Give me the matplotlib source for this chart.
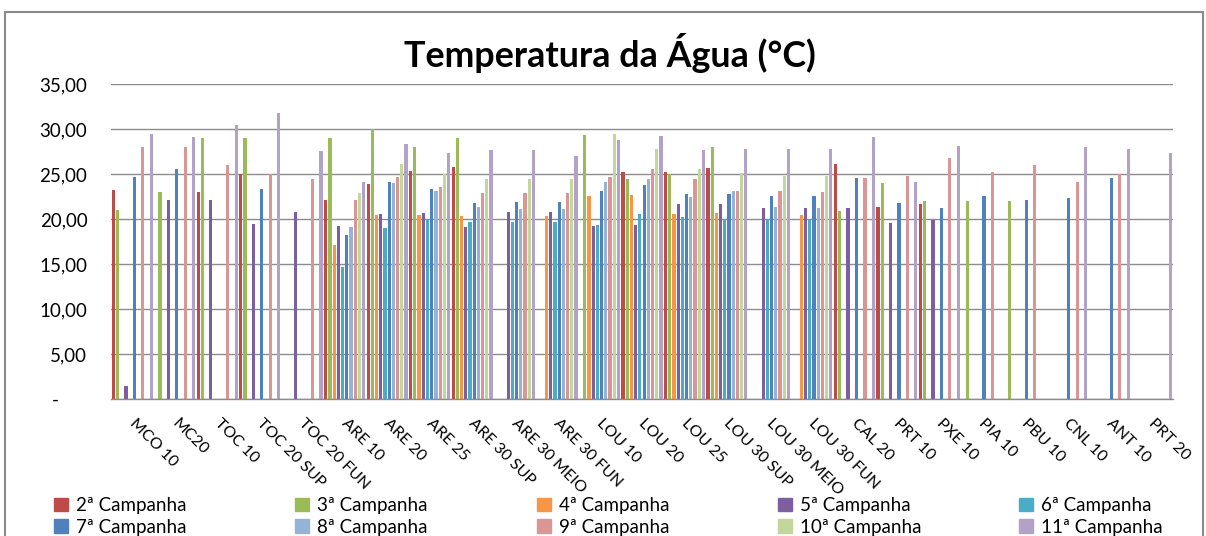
import numpy as np
import matplotlib
matplotlib.use("Agg")
import matplotlib.pyplot as plt
from matplotlib.patches import Rectangle, Patch
from matplotlib.ticker import FixedLocator

plt.rcParams['font.family'] = ['Lato', 'DejaVu Sans']

nan = np.nan
categorias = ["MCO 10", "MC20", "TOC 10", "TOC 20 SUP", "TOC 20 FUN", "ARE 10", "ARE 20",
              "ARE 25", "ARE 30 SUP", "ARE 30 MEIO", "ARE 30 FUN", "LOU 10", "LOU 20",
              "LOU 25", "LOU 30 SUP", "LOU 30 MEIO", "LOU 30 FUN", "CAL 20", "PRT 10",
              "PXE 10", "PIA 10", "PBU 10", "CNL 10", "ANT 10", "PRT 20"]

camp2 = [23.3, nan, 23.0, 25.0, nan, 22.1, 23.9, 25.4, 25.8, nan, nan, nan, 25.3,
         25.3, 25.7, nan, nan, 26.1, 21.4, 21.7, nan, nan, nan, nan, nan]
camp3 = [21.0, 23.0, 29.0, 29.0, nan, 29.0, 30.0, 28.0, 29.0, nan, nan, 29.4, 24.5,
         25.0, 28.0, nan, nan, 20.9, 24.0, 22.0, 22.0, 22.0, nan, nan, nan]
camp4 = [nan, nan, nan, nan, nan, 17.2, 20.5, 20.5, 20.4, nan, 20.4, 22.6, 22.7,
         20.6, 20.7, nan, 20.5, nan, nan, nan, nan, nan, nan, nan, nan]
camp5 = [1.44, 22.1, 22.1, 19.5, 20.8, 19.3, 20.6, 20.7, 19.2, 20.8, 20.8, 19.3, 19.4,
         21.7, 21.7, 21.3, 21.3, 21.3, 19.6, 19.9, nan, nan, nan, nan, nan]
camp6 = [nan, nan, nan, nan, nan, 14.7, 19.0, 19.9, 19.7, 19.7, 19.7, 19.4, 20.6,
         20.3, 19.9, 19.9, 19.9, nan, nan, nan, nan, nan, nan, nan, nan]
camp7 = [24.7, 25.6, nan, 23.4, nan, 18.3, 24.1, 23.4, 21.8, 21.9, 21.9, 23.2, 23.8,
         22.8, 22.8, 22.6, 22.6, 24.6, 21.8, 21.3, 22.6, 22.1, 22.4, 24.6, nan]
camp8 = [nan, nan, nan, nan, nan, 19.2, 24.0, 23.2, 21.4, 21.2, 21.2, 24.1, 24.5,
         22.5, 23.1, 21.4, 21.3, nan, nan, nan, nan, nan, nan, nan, nan]
camp9 = [28.0, 28.0, 26.0, 25.0, 24.5, 22.2, 24.7, 23.6, 22.9, 22.9, 22.9, 24.7, 25.6,
         24.5, 23.1, 23.1, 23.0, 24.6, 24.8, 26.8, 25.3, 26.0, 24.2, 25.0, nan]
camp10 = [nan, nan, nan, nan, nan, 22.9, 26.1, 25.0, 24.5, 24.5, 24.5, 29.5, 27.8,
          25.6, 25.1, 24.8, 24.8, nan, nan, nan, nan, nan, nan, nan, nan]
camp11 = [29.5, 29.15, 30.5, 31.8, 27.55, 24.1, 28.4, 27.4, 27.7, 27.7, 27.0, 28.8, 29.3,
          27.7, 27.8, 27.8, 27.8, 29.15, 24.1, 28.1, nan, nan, 28.0, 27.8, 27.4]

series = [camp2, camp3, camp4, camp5, camp6, camp7, camp8, camp9, camp10, camp11]
nomes = ["2ª Campanha", "3ª Campanha", "4ª Campanha", "5ª Campanha", "6ª Campanha",
         "7ª Campanha", "8ª Campanha", "9ª Campanha", "10ª Campanha", "11ª Campanha"]
cores = ["#BE4B48", "#9BBB59", "#F79646", "#7D5FA0", "#4BACC6",
         "#4F81BD", "#95B3D7", "#D99694", "#C3D69B", "#B3A2C7"]

fig = plt.figure(figsize=(12.06, 5.36), dpi=100)
ax = fig.add_axes([111 / 1206, 1 - 399.3 / 536, 1062 / 1206, 315 / 536])

x = np.arange(len(categorias))
slot = 0.099
larg = 0.075
for j, (vals, cor) in enumerate(zip(series, cores)):
    ax.bar(x + (j - 4.5) * slot, vals, width=larg, color=cor, linewidth=0)

ax.set_xlim(-0.5, len(categorias) - 0.5)
ax.set_ylim(0, 35)
ax.yaxis.set_major_locator(FixedLocator([0, 5, 10, 15, 20, 25, 30, 35]))
ax.set_yticklabels(["-      ", "5,00", "10,00", "15,00", "20,00", "25,00", "30,00", "35,00"],
                   fontsize=13.5)
ax.grid(axis='y', color='#8c8c8c', linewidth=1.0)
ax.set_axisbelow(True)
for s in ['top', 'right', 'left']:
    ax.spines[s].set_visible(False)
ax.spines['bottom'].set_color('#8c8c8c')
ax.spines['bottom'].set_linewidth(1.0)
ax.tick_params(axis='y', length=0, pad=17)
ax.tick_params(axis='x', length=0, pad=16)
ax.set_xticks(x - 0.02)
ax.set_xticklabels(categorias, rotation=-45, ha='left', va='center',
                   rotation_mode='anchor', fontsize=11.5)

fig.text(0.506, 1 - 67 / 536, "Temperatura da Água (°C)", ha='center', va='baseline',
         fontsize=25.8, fontweight='bold')

# legenda: 5 colunas, 2 linhas
col_x = [54, 295, 537, 778, 1019]
for c in range(5):
    hs = [Patch(color=cores[c]), Patch(color=cores[c + 5])]
    leg = fig.legend(hs, [nomes[c], nomes[c + 5]], loc='upper left',
                     bbox_to_anchor=(col_x[c] / 1206, 1 - 497 / 536),
                     frameon=False, fontsize=13.5, handlelength=0.75, handleheight=0.75,
                     handletextpad=0.4, labelspacing=0.25, borderaxespad=0, borderpad=0)

fig.patches.append(Rectangle((5 / 1206, -0.05), 1198 / 1206, 1.05 - 12 / 536,
                             transform=fig.transFigure, fill=False,
                             edgecolor='#8a8a8a', linewidth=1.5))

fig.savefig("out.png", dpi=100)
